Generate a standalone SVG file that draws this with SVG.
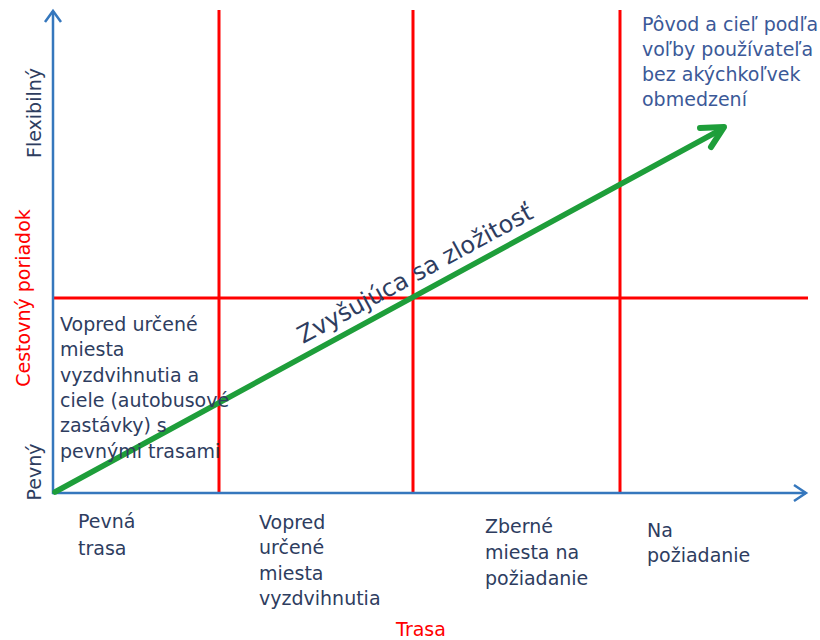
<svg xmlns="http://www.w3.org/2000/svg" width="820" height="640" viewBox="0 0 820 640">
<style>
.t{font-family:"DejaVu Sans","Noto Sans",sans-serif;font-size:19px;fill:#2e3d5f}
.b{fill:#3b5998}
.r{fill:#ff0000}
.big{font-size:24px}
.ax{stroke:#3577bd;stroke-width:2.5;fill:none}
.grid{stroke:#ff0000;stroke-width:3;fill:none}
</style>
<rect width="820" height="640" fill="#ffffff"/>
<g id="grid">
<line class="grid" x1="219" y1="10" x2="219" y2="494"/>
<line class="grid" x1="413" y1="10" x2="413" y2="494"/>
<line class="grid" x1="620" y1="10" x2="620" y2="494"/>
<line class="grid" x1="54" y1="298" x2="808" y2="298"/>
</g>
<g id="connectors">
<g id="y-axis">
<line class="ax" x1="53" y1="494" x2="53" y2="11"/>
<polyline class="ax" points="45,22 53,11 61,22"/>
</g>
<g id="x-axis">
<line class="ax" x1="52" y1="493" x2="806" y2="493"/>
<polyline class="ax" points="794,485 806,493 794,501"/>
</g>
<g id="complexity-arrow">
<line x1="55" y1="492" x2="722" y2="129" stroke="#1e9e3a" stroke-width="5.5" stroke-linecap="round"/>
<polyline points="700,128 724,127 711,147" fill="none" stroke="#1e9e3a" stroke-width="6" stroke-linecap="round" stroke-linejoin="round"/>
</g>
</g>
<g id="axis-labels">
<text class="t" transform="translate(41,113) rotate(-90)" text-anchor="middle">Flexibilný</text>
<text class="t r" transform="translate(30,298) rotate(-90)" text-anchor="middle">Cestovný poriadok</text>
<text class="t" transform="translate(41,472) rotate(-90)" text-anchor="middle">Pevný</text>
<text class="t r" x="421" y="636" text-anchor="middle">Trasa</text>
</g>
<g id="node-top-right">
<text class="t b" x="642" y="31">Pôvod a cieľ podľa</text>
<text class="t b" x="642" y="56">voľby používateľa</text>
<text class="t b" x="642" y="81">bez akýchkoľvek</text>
<text class="t b" x="642" y="106">obmedzení</text>
</g>
<g id="node-bottom-left">
<text class="t" x="60" y="331">Vopred určené</text>
<text class="t" x="60" y="356">miesta</text>
<text class="t" x="60" y="382">vyzdvihnutia a</text>
<text class="t" x="60" y="407">ciele (autobusové</text>
<text class="t" x="60" y="432">zastávky) s</text>
<text class="t" x="60" y="458">pevnými trasami</text>
</g>
<g id="col1"><text class="t" x="78" y="528">Pevná</text><text class="t" x="78" y="555">trasa</text></g>
<g id="col2"><text class="t" x="259" y="529">Vopred</text><text class="t" x="259" y="554">určené</text><text class="t" x="259" y="580">miesta</text><text class="t" x="259" y="605">vyzdvihnutia</text></g>
<g id="col3"><text class="t" x="485" y="533">Zberné</text><text class="t" x="485" y="559">miesta na</text><text class="t" x="485" y="585">požiadanie</text></g>
<g id="col4"><text class="t" x="647" y="537">Na</text><text class="t" x="647" y="562">požiadanie</text></g>
<g id="complexity-label">
<text class="t big" transform="translate(303,344) rotate(-28.6)">Zvyšujúca sa zložitosť</text>
</g>
</svg>
